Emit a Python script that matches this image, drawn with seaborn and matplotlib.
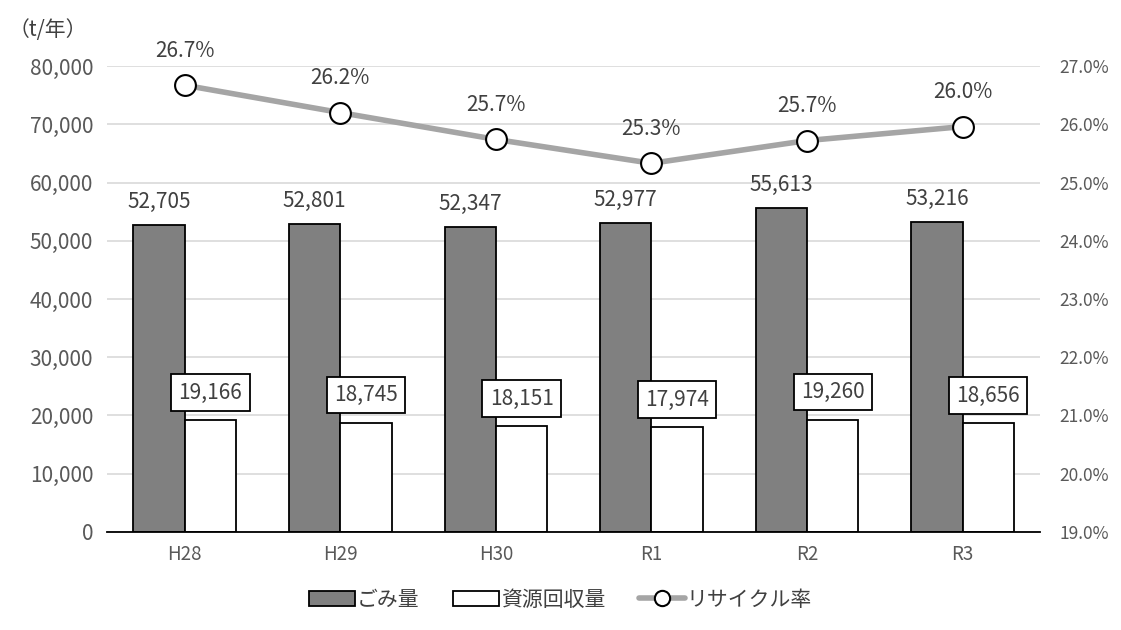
import numpy as np
import pandas as pd
import seaborn as sns
from matplotlib import pyplot as plt
from matplotlib.patches import Patch
from matplotlib.lines import Line2D
from matplotlib.ticker import FuncFormatter

#%% DATA
years = ['H28', 'H29', 'H30', 'R1', 'R2', 'R3']
garbage = [52705, 52801, 52347, 52977, 55613, 53216]
recovered = [19166, 18745, 18151, 17974, 19260, 18656]
recycle_rate = [26.67, 26.20, 25.74, 25.33, 25.72, 25.96]
series_names = ['ごみ量', '資源回収量', 'リサイクル率']

#%% STYLE
sns.set_theme(style='white')
plt.rcParams['font.family'] = ['Noto Sans CJK JP', 'DejaVu Sans']
TICK_COLOR = '#595959'
TEXT_COLOR = '#404040'

df = pd.DataFrame({
    'year': years * 2,
    'value': garbage + recovered,
    'kind': [series_names[0]] * len(years) + [series_names[1]] * len(years),
})

fig = plt.figure(figsize=(11.21, 6.30), dpi=100)
ax = fig.add_axes([0.0955, 0.1556, 0.8325, 0.7396])

sns.barplot(data=df, x='year', y='value', hue='kind', ax=ax,
            palette={series_names[0]: '#808080', series_names[1]: 'white'},
            edgecolor='black', linewidth=1.3, width=0.66, gap=0,
            legend=False, errorbar=None)

ax.set_ylim(0, 80000)
ax.set_xlim(-0.5, len(years) - 0.5)
ax.set_yticks(np.arange(0, 80001, 10000))
ax.yaxis.set_major_formatter(FuncFormatter(lambda v, p: f'{int(v):,}'))
ax.tick_params(axis='y', labelsize=15, colors=TICK_COLOR, length=0, pad=10)
ax.tick_params(axis='x', labelsize=13.5, colors=TICK_COLOR, length=0, pad=9)
ax.set_xlabel('')
ax.set_ylabel('')
ax.grid(axis='y', color='#d9d9d9', linewidth=1.2)
ax.set_axisbelow(True)
for side in ['left', 'right', 'top']:
    ax.spines[side].set_visible(False)
ax.spines['bottom'].set_color('black')
ax.spines['bottom'].set_linewidth(1.3)

# bar labels
ax.bar_label(ax.containers[0], labels=[f'{v:,}' for v in garbage],
             padding=9, fontsize=15, color=TEXT_COLOR)
ax.bar_label(ax.containers[1], labels=[f'{v:,}' for v in recovered],
             padding=12, fontsize=15, color=TEXT_COLOR,
             bbox=dict(boxstyle='square,pad=0.35', fc='white', ec='black', lw=1.3))

# recycle rate on secondary axis
ax2 = ax.twinx()
xpos = np.arange(len(years))
ax2.plot(xpos, recycle_rate, color='#a5a5a5', linewidth=4, marker='o',
         markersize=15, markerfacecolor='white', markeredgecolor='black',
         markeredgewidth=1.5, zorder=5)
ax2.set_ylim(19, 27)
ax2.set_yticks(np.arange(19, 27.01, 1))
ax2.yaxis.set_major_formatter(FuncFormatter(lambda v, p: f'{v:.1f}%'))
ax2.tick_params(axis='y', labelsize=12.5, colors=TICK_COLOR, length=0, pad=14)
for side in ['left', 'right', 'top', 'bottom']:
    ax2.spines[side].set_visible(False)
for x, r in zip(xpos, recycle_rate):
    ax2.annotate(f'{r:.1f}%', (x, r), xytext=(0, 17), textcoords='offset points',
                 ha='center', va='bottom', fontsize=15, color=TEXT_COLOR)

fig.text(0.008, 0.952, '（t/年）', fontsize=15, color=TEXT_COLOR, va='center')

handles = [
    Patch(facecolor='#808080', edgecolor='black', linewidth=1.3),
    Patch(facecolor='white', edgecolor='black', linewidth=1.3),
    Line2D([0], [0], color='#a5a5a5', linewidth=4, marker='o', markersize=11,
           markerfacecolor='white', markeredgecolor='black', markeredgewidth=1.5),
]
fig.legend(handles, series_names, loc='center', bbox_to_anchor=(0.5, 0.048),
           ncol=3, frameon=False, fontsize=15, handlelength=2.2, handleheight=0.8,
           handletextpad=0.1, columnspacing=1.6, labelcolor=TEXT_COLOR)

fig.savefig('out.png', dpi=100)
